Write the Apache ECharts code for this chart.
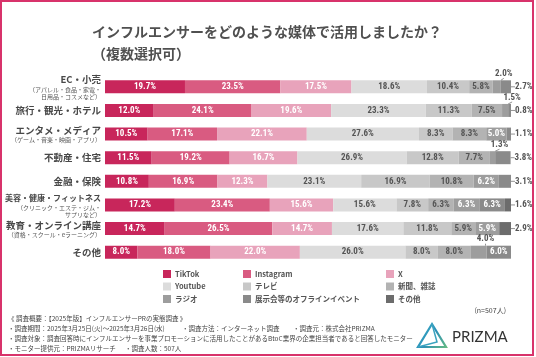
<!DOCTYPE html>
<html><head><meta charset="utf-8">
<script src="https://cdn.jsdelivr.net/npm/echarts@6/dist/echarts.min.js"></script>
<style>html,body{margin:0;padding:0;background:#fff}#c{width:536px;height:357px}</style>
</head><body><div id="c"></div>
<script>
const categories = ['EC・小売','旅行・観光・ホテル','エンタメ・メディア','不動産・住宅','金融・保険','美容・健康・フィットネス','教育・オンライン講座','その他'];
const subLabels = ['（アパレル・食品・家電・\n日用品・コスメなど）','','（ゲーム・音楽・映画・アプリ）','','','（クリニック・エステ・ジム・\nサプリなど）','（資格・スクール・eラーニング）',''];
const seriesNames = ['TikTok','Instagram','X','Youtube','テレビ','新聞、雑誌','ラジオ','展示会等のオフラインイベント','その他'];
const tiktok    = [19.7,12.0,10.5,11.5,10.8,17.2,14.7,8.0];
const instagram = [23.5,24.1,17.1,19.2,16.9,23.4,26.5,18.0];
const xData     = [17.5,19.6,22.1,16.7,12.3,15.6,14.7,22.0];
const youtube   = [18.6,23.3,27.6,26.9,23.1,15.6,17.6,26.0];
const tv        = [10.4,11.3,8.3,12.8,16.9,7.8,11.8,8.0];
const newspaper = [5.8,7.5,8.3,7.7,10.8,6.3,5.9,8.0];
const radio     = [2.0,1.5,5.0,1.3,6.2,6.3,5.9,4.0];
const offline   = [2.7,0.8,1.1,3.8,3.1,6.3,0,6.0];
const others    = [0,0,0,0,0,1.6,2.9,0];
const allSeries = [tiktok,instagram,xData,youtube,tv,newspaper,radio,offline,others];
const colors = ['#c8265b','#d95b81','#e8a3bb','#dcdcdc','#c8c8c8','#b3b3b3','#9d9d9d','#8a8a8a','#6c6c6c'];
const labelColors = ['#fff','#fff','#fff','#555','#555','#555','#fff','#fff','#fff'];

const labelFont = "'Roboto Condensed','Liberation Sans Narrow',Roboto,sans-serif";

// determine label placement for each cell
function placement(si, ri){
  const v = allSeries[si][ri];
  if (v === 0) return 'none';
  let last = -1;
  for (let k = 0; k < allSeries.length; k++) if (allSeries[k][ri] > 0) last = k;
  if (si === last && v < 4.5) return 'right';
  if (v < 4.5) return 'top';
  return 'inside';
}

const series = seriesNames.map((name, si) => ({
  name, type: 'bar', stack: 'total', barWidth: 13,
  itemStyle: {color: colors[si]},
  labelLayout: function(p){
    const pl = placement(si, p.dataIndex);
    if (pl === 'top') return {dx: 7, dy: -1};
    if (pl === 'right') return {dx: 3};
    return {};
  },
  data: allSeries[si].map((v, ri) => {
    const pl = placement(si, ri);
    const item = {value: v};
    if (pl === 'none') { item.label = {show: false}; }
    else if (pl === 'inside') {
      item.label = {show: true, position: 'inside', color: labelColors[si]};
    } else if (pl === 'top') {
      item.label = {show: true, position: 'top', distance: 1, color: '#555'};
      item.labelLine = {show: true, lineStyle: {color: '#777', width: 0.8}};
    } else {
      item.label = {show: true, position: 'right', distance: 1, color: '#555'};
      item.labelLine = {show: true, lineStyle: {color: '#777', width: 0.8}};
    }
    return item;
  }),
  label: {show: true, fontFamily: labelFont, fontSize: 9, fontWeight: 'bold',
    formatter: p => p.value.toFixed(1) + '%'}
}));

const legendCols = [
  ['TikTok','Youtube','ラジオ'],
  ['Instagram','テレビ','展示会等のオフラインイベント'],
  ['X','新聞、雑誌','その他']
];
const legendLefts = [163, 243, 386];

const jp = "'Noto Sans CJK JP','Noto Sans',sans-serif";
const footTxt = (x, y, t) => ({type:'text', left: x, top: y - 4, style:{text: t, fill:'#444', font: '6.5px ' + jp}});

const chart = echarts.init(document.getElementById('c'), null, {renderer:'canvas'});
chart.setOption({
  animation: false,
  textStyle: {fontFamily: jp},
  title: {
    text: 'インフルエンサーをどのような媒体で活用しましたか？\n（複数選択可）',
    left: 92, top: 21, padding: 0,
    textStyle: {fontSize: 14, fontWeight: 'bold', color: '#505050', lineHeight: 22, fontFamily: jp}
  },
  legend: legendCols.map((d, i) => ({
    data: d, orient: 'vertical', left: legendLefts[i], top: 270, padding: 0,
    icon: 'rect', itemWidth: 8, itemHeight: 8, itemGap: 4.5,
    textStyle: {fontSize: 7.5, color: '#555', fontWeight: 'bold', fontFamily: jp, padding: [0,0,0,-1]}
  })),
  grid: {left: 105, right: 25, top: 75, bottom: 93},
  xAxis: {type: 'value', min: 0, max: 100, show: false},
  yAxis: {
    type: 'category', data: categories, inverse: true,
    axisLine: {show: false}, axisTick: {show: false},
    axisLabel: {
      margin: 4,
      formatter: function(val, idx){
        const main = categories[idx].length >= 12 ? '{m2|' + val + '}' : '{m|' + val + '}';
        const sub = subLabels[idx];
        if (!sub) return main;
        return main + '\n' + sub.split('\n').map(s => '{s|' + s + '}').join('\n');
      },
      rich: {
        m: {fontSize: 9.5, fontWeight: 'bold', color: '#484848', lineHeight: 12, align: 'right', fontFamily: jp},
        m2: {fontSize: 8, fontWeight: 'bold', color: '#484848', lineHeight: 12, align: 'right', fontFamily: jp},
        s: {fontSize: 6, color: '#555', lineHeight: 7, align: 'right', fontFamily: jp}
      }
    }
  },
  series,
  graphic: [
    {type:'rect', shape:{x:1, y:1, width:532, height:354}, style:{fill:'none', stroke:'#d8336b', lineWidth:2}, z: 100},
    {type:'text', right: 30, top: 307, style:{text:'(n=507人)', fill:'#444', font:'7px ' + jp}},
    footTxt(8, 319.5, '《 調査概要：【2025年版】インフルエンサーPRの実態調査 》'),
    footTxt(8, 329.5, '・調査期間：2025年3月25日(火)〜2025年3月26日(水)'),
    footTxt(182, 329.5, '・調査方法：インターネット調査'),
    footTxt(293, 329.5, '・調査元：株式会社PRIZMA'),
    footTxt(8, 339.5, '・調査対象：調査回答時にインフルエンサーを事業プロモーションに活用したことがあるBtoC業界の企業担当者であると回答したモニター'),
    footTxt(8, 349.5, '・モニター提供元：PRIZMAリサーチ'),
    footTxt(125, 349.5, '・調査人数：507人'),
    {type:'polygon', shape:{points:[[432,324],[418,347],[446,347]]},
      style:{fill:'none', lineWidth:2.2,
        stroke: new echarts.graphic.LinearGradient(0,0,1,1,[{offset:0,color:'#3fb8c9'},{offset:0.5,color:'#2a8fb8'},{offset:1,color:'#6cc07a'}])}},
    {type:'polyline', shape:{points:[[432,324],[437,342],[418,347]]}, style:{stroke:'#3aa3c0', lineWidth:1.5, fill:'none'}},
    {type:'text', left: 452, top: 330, style:{text:'PRIZMA', fill:'#333', font:'15px Lato, "Liberation Sans", sans-serif'}}
  ]
});
</script></body></html>
